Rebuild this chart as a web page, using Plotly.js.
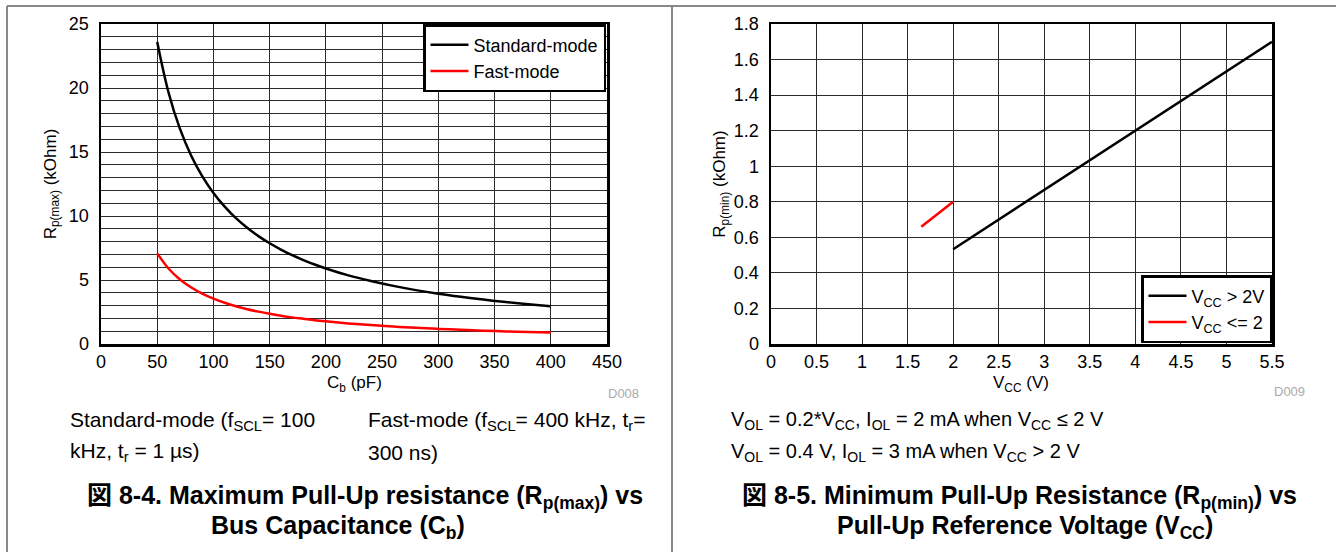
<!DOCTYPE html>
<html>
<head>
<meta charset="utf-8">
<script src="https://cdn.plot.ly/plotly-3.0.1.min.js"></script>
<style>html,body{margin:0;padding:0;background:#fff;}#chart{width:1336px;height:552px;}</style>
</head>
<body>
<div id="chart"></div>
<script>
// Left chart: Rp(max) vs Cb
const cbPF = [50, 60, 70, 80, 90, 100, 110, 120, 130, 140, 150, 160, 170, 180, 190, 200, 220, 240, 260, 280, 300, 320, 340, 360, 380, 400];
const rpMaxStandard = [23.6, 19.67, 16.86, 14.75, 13.11, 11.8, 10.73, 9.83, 9.08, 8.43, 7.87, 7.38, 6.94, 6.56, 6.21, 5.9, 5.36, 4.92, 4.54, 4.21, 3.93, 3.69, 3.47, 3.28, 3.11, 2.95];
const rpMaxFast = [7.08, 5.9, 5.06, 4.43, 3.93, 3.54, 3.22, 2.95, 2.72, 2.53, 2.36, 2.21, 2.08, 1.97, 1.86, 1.77, 1.61, 1.48, 1.36, 1.26, 1.18, 1.11, 1.04, 0.98, 0.93, 0.89];

// Right chart: Rp(min) vs Vcc
const vccHigh = [2.0, 5.5];
const rpMinHigh = [0.533, 1.7];
const vccLow = [1.65, 2.0];
const rpMinLow = [0.66, 0.8];

const leftXTicks = [0, 50, 100, 150, 200, 250, 300, 350, 400, 450];
const leftYTicks = [0, 5, 10, 15, 20, 25];
const rightXTicks = [0, 0.5, 1, 1.5, 2, 2.5, 3, 3.5, 4, 4.5, 5, 5.5];
const rightXTickText = ['0', '0.5', '1', '1.5', '2', '2.5', '3', '3.5', '4', '4.5', '5', '5.5'];
const rightYTicks = [0, 0.2, 0.4, 0.6, 0.8, 1, 1.2, 1.4, 1.6, 1.8];
const rightYTickText = ['0', '0.2', '0.4', '0.6', '0.8', '1', '1.2', '1.4', '1.6', '1.8'];

const W = 1336, H = 552;
const px = v => v / W;
const py = v => 1 - v / H;

const FONT = 'Liberation Sans, Arial, Helvetica, sans-serif';
const CJK = 'Liberation Sans, Arial, Noto Sans CJK JP, sans-serif';
const gridColor = '#2a2a2a';

const traces = [
  {x: cbPF, y: rpMaxStandard, type: 'scatter', mode: 'lines', name: 'Standard-mode',
   line: {color: '#000000', width: 2.5, shape: 'spline'}, xaxis: 'x', yaxis: 'y', legend: 'legend'},
  {x: cbPF, y: rpMaxFast, type: 'scatter', mode: 'lines', name: 'Fast-mode',
   line: {color: '#ff0000', width: 2.5, shape: 'spline'}, xaxis: 'x', yaxis: 'y', legend: 'legend'},
  {x: vccHigh, y: rpMinHigh, type: 'scatter', mode: 'lines', name: 'V<sub>CC</sub> &gt; 2V',
   line: {color: '#000000', width: 2.5}, xaxis: 'x2', yaxis: 'y2', legend: 'legend2'},
  {x: vccLow, y: rpMinLow, type: 'scatter', mode: 'lines', name: 'V<sub>CC</sub> &lt;= 2',
   line: {color: '#ff0000', width: 2.5}, xaxis: 'x2', yaxis: 'y2', legend: 'legend2'}
];

const tickFont = {family: FONT, size: 18, color: '#000'};
const titleFont = {family: FONT, size: 17, color: '#000'};

const axisCommon = {
  showline: true, mirror: true, linecolor: '#000', linewidth: 2.5,
  showgrid: true, gridcolor: gridColor, gridwidth: 1,
  zeroline: false, ticks: '', fixedrange: true, automargin: false,
  tickfont: tickFont
};

const layout = {
  width: W, height: H,
  margin: {l: 0, r: 0, t: 0, b: 0},
  paper_bgcolor: '#fff', plot_bgcolor: '#fff',
  showlegend: true,
  xaxis: Object.assign({}, axisCommon, {
    domain: [px(101), px(607)], range: [0, 450], tickvals: leftXTicks,
    anchor: 'y', ticklabelstandoff: 0
  }),
  yaxis: Object.assign({}, axisCommon, {
    domain: [py(344), py(24)], range: [0, 25], tick0: 0, dtick: 5, anchor: 'x',
    ticklabelstandoff: 6,
    minor: {tick0: 0, dtick: 1, showgrid: true, gridcolor: gridColor, gridwidth: 1, ticks: ''},
    title: {text: 'R<sub>p(max)</sub> (kOhm)', font: titleFont}
  }),
  xaxis2: Object.assign({}, axisCommon, {
    domain: [px(771), px(1272)], range: [0, 5.5], tickvals: rightXTicks, ticktext: rightXTickText,
    anchor: 'y2', ticklabelstandoff: 0
  }),
  yaxis2: Object.assign({}, axisCommon, {
    domain: [py(344), py(24)], range: [0, 1.8], tickvals: rightYTicks, ticktext: rightYTickText,
    anchor: 'x2', ticklabelstandoff: 6,
    title: {text: 'R<sub>p(min)</sub> (kOhm)', font: titleFont}
  }),
  legend: {
    x: px(606), y: py(24), xanchor: 'right', yanchor: 'top',
    bgcolor: '#fff', bordercolor: '#000', borderwidth: 2.5, itemwidth: 38,
    font: {family: FONT, size: 18, color: '#000'}, tracegroupgap: 0
  },
  legend2: {
    x: px(1272), y: py(343), xanchor: 'right', yanchor: 'bottom',
    bgcolor: '#fff', bordercolor: '#000', borderwidth: 2.5, itemwidth: 38,
    font: {family: FONT, size: 18, color: '#000'}, tracegroupgap: 0
  },
  shapes: [
    {type: 'line', xref: 'paper', yref: 'paper', x0: px(7), x1: 1, y0: py(6), y1: py(6), line: {color: '#888', width: 2}},
    {type: 'line', xref: 'paper', yref: 'paper', x0: px(7), x1: px(7), y0: py(6), y1: 0, line: {color: '#888', width: 2}},
    {type: 'line', xref: 'paper', yref: 'paper', x0: px(672), x1: px(672), y0: py(6), y1: 0, line: {color: '#888', width: 2}}
  ],
  annotations: [
    {text: 'C<sub>b</sub> (pF)', xref: 'paper', yref: 'paper', x: px(354), y: py(384), xanchor: 'center', yanchor: 'middle', showarrow: false, font: titleFont},
    {text: 'V<sub>CC</sub> (V)', xref: 'paper', yref: 'paper', x: px(1021), y: py(384), xanchor: 'center', yanchor: 'middle', showarrow: false, font: titleFont},
    {text: 'D008', xref: 'paper', yref: 'paper', x: px(641), y: py(393), xanchor: 'right', yanchor: 'middle', showarrow: false, font: {family: FONT, size: 13, color: '#aaa'}},
    {text: 'D009', xref: 'paper', yref: 'paper', x: px(1307), y: py(391), xanchor: 'right', yanchor: 'middle', showarrow: false, font: {family: FONT, size: 13, color: '#aaa'}},
    {text: 'Standard-mode (f<sub>SCL</sub>= 100', xref: 'paper', yref: 'paper', x: px(68), y: py(421), xanchor: 'left', yanchor: 'middle', showarrow: false, font: {family: FONT, size: 21, color: '#000'}},
    {text: 'kHz, t<sub>r</sub> = 1 µs)', xref: 'paper', yref: 'paper', x: px(68), y: py(452), xanchor: 'left', yanchor: 'middle', showarrow: false, font: {family: FONT, size: 21, color: '#000'}},
    {text: 'Fast-mode (f<sub>SCL</sub>= 400 kHz, t<sub>r</sub>=', xref: 'paper', yref: 'paper', x: px(366), y: py(421), xanchor: 'left', yanchor: 'middle', showarrow: false, font: {family: FONT, size: 21, color: '#000'}},
    {text: '300 ns)', xref: 'paper', yref: 'paper', x: px(366), y: py(452), xanchor: 'left', yanchor: 'middle', showarrow: false, font: {family: FONT, size: 21, color: '#000'}},
    {text: '<b>図 8-4. Maximum Pull-Up resistance (R<sub>p(max)</sub>) vs</b>', xref: 'paper', yref: 'paper', x: px(365), y: py(497), xanchor: 'center', yanchor: 'middle', showarrow: false, font: {family: CJK, size: 25, color: '#000'}},
    {text: '<b>Bus Capacitance (C<sub>b</sub>)</b>', xref: 'paper', yref: 'paper', x: px(338), y: py(527), xanchor: 'center', yanchor: 'middle', showarrow: false, font: {family: CJK, size: 25, color: '#000'}},
    {text: 'V<sub>OL</sub> = 0.2*V<sub>CC</sub>, I<sub>OL</sub> = 2 mA when V<sub>CC</sub> ≤ 2 V', xref: 'paper', yref: 'paper', x: px(729), y: py(421), xanchor: 'left', yanchor: 'middle', showarrow: false, font: {family: FONT, size: 20, color: '#000'}},
    {text: 'V<sub>OL</sub> = 0.4 V, I<sub>OL</sub> = 3 mA when V<sub>CC</sub> &gt; 2 V', xref: 'paper', yref: 'paper', x: px(729), y: py(452), xanchor: 'left', yanchor: 'middle', showarrow: false, font: {family: FONT, size: 20, color: '#000'}},
    {text: '<b>図 8-5. Minimum Pull-Up Resistance (R<sub>p(min)</sub>) vs</b>', xref: 'paper', yref: 'paper', x: px(1019), y: py(497), xanchor: 'center', yanchor: 'middle', showarrow: false, font: {family: CJK, size: 25, color: '#000'}},
    {text: '<b>Pull-Up Reference Voltage (V<sub>CC</sub>)</b>', xref: 'paper', yref: 'paper', x: px(1025), y: py(527), xanchor: 'center', yanchor: 'middle', showarrow: false, font: {family: CJK, size: 25, color: '#000'}}
  ]
};

Plotly.newPlot('chart', traces, layout, {displayModeBar: false, staticPlot: true});
</script>
</body>
</html>
